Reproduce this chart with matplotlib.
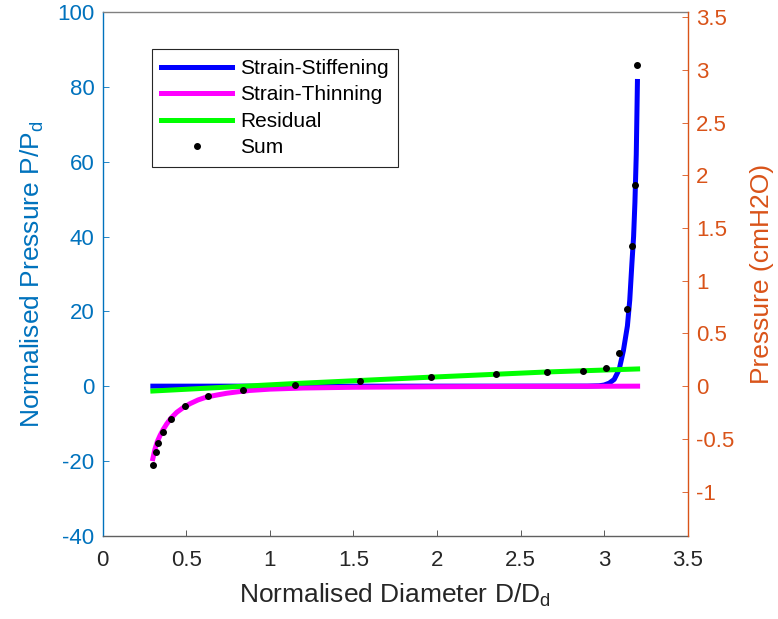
import matplotlib
matplotlib.use('Agg')
import matplotlib.pyplot as plt

plt.rcParams['font.family'] = ['Liberation Sans', 'DejaVu Sans']
plt.rcParams['mathtext.fontset'] = 'custom'
plt.rcParams['mathtext.rm'] = 'Liberation Sans'
plt.rcParams['mathtext.it'] = 'Liberation Sans'
plt.rcParams['axes.unicode_minus'] = False

# 数据
stiff_x = [0.3, 1.0, 2.0, 2.9, 2.97, 3.0, 3.03, 3.06, 3.09, 3.115, 3.139, 3.153, 3.166, 3.176, 3.184, 3.192, 3.199]
stiff_y = [0.0, 0.0, 0.0, 0.02, 0.1, 0.3, 0.8, 1.8, 4.5, 9.5, 16.1, 23.0, 32.9, 40.0, 49.2, 62.0, 81.5]

thin_x = [0.3, 0.313, 0.327, 0.343, 0.362, 0.383, 0.41, 0.443, 0.48, 0.522, 0.57, 0.622, 0.68, 0.742, 0.81,
          0.881, 1.0, 1.2, 1.5, 2.0, 2.5, 3.0, 3.2]
thin_y = [-19.4, -16.8, -14.8, -13.2, -11.6, -10.1, -8.5, -7.0, -5.8, -4.7, -3.7, -2.9, -2.4, -1.9, -1.5,
          -1.15, -0.8, -0.5, -0.3, -0.15, -0.07, -0.03, 0.0]

resid_x = [0.3, 1.15, 1.96, 2.66, 3.2]
resid_y = [-1.3, 0.7, 2.4, 3.8, 4.6]

sum_x = [0.299, 0.319, 0.333, 0.361, 0.409, 0.493, 0.628, 0.841, 1.149, 1.538, 1.963, 2.352, 2.659,
         2.873, 3.008, 3.090, 3.139, 3.166, 3.184, 3.199]
sum_y = [-21.0, -17.5, -15.3, -12.3, -8.8, -5.4, -2.7, -0.9, 0.4, 1.4, 2.4, 3.2, 3.7,
         4.1, 4.8, 9.0, 20.6, 37.4, 53.7, 86.0]

left_ticks = [-40, -20, 0, 20, 40, 60, 80, 100]
right_ticks = [-1, -0.5, 0, 0.5, 1, 1.5, 2, 2.5, 3, 3.5]
x_ticks = [0, 0.5, 1, 1.5, 2, 2.5, 3, 3.5]
scale = 28.2  # P/Pd -> cmH2O 换算

blue_ax = '#0072BD'
orange_ax = '#D95319'

fig = plt.figure(figsize=(7.78, 6.19), dpi=100)
ax = fig.add_axes([0.132, 0.1346, 0.752, 0.8455])
ax2 = ax.twinx()

ax.plot(stiff_x, stiff_y, color='#0000FF', linewidth=3.6, label='Strain-Stiffening')
ax.plot(thin_x, thin_y, color='#FF00FF', linewidth=3.6, label='Strain-Thinning')
ax.plot(resid_x, resid_y, color='#00FF00', linewidth=3.6, label='Residual')
ax.plot(sum_x, sum_y, linestyle='none', marker='o', markersize=4, color='black', label='Sum')

ax.set_xlim(0, 3.5)
ax.set_ylim(-40, 100)
ax2.set_ylim(-40 / scale, 100 / scale)
ax.set_xticks(x_ticks)
ax.set_xticklabels([f'{v:g}' for v in x_ticks])
ax.set_yticks(left_ticks)
ax2.set_yticks(right_ticks)
ax2.set_yticklabels([f'{v:g}' for v in right_ticks])

ax.set_xlabel('Normalised Diameter D/D$_\\mathrm{d}$', fontsize=19, color='#262626', labelpad=8)
ax.set_ylabel('Normalised Pressure P/P$_\\mathrm{d}$', fontsize=19, color=blue_ax, labelpad=8)
ax2.set_ylabel('Pressure (cmH2O)', fontsize=19, color=orange_ax, labelpad=11)

# 坐标轴样式
ax.tick_params(axis='x', direction='in', length=4.5, width=0.6, colors='#404040', labelsize=16, pad=10)
ax.tick_params(axis='x', labelcolor='#262626')
ax.tick_params(axis='y', direction='in', length=4.5, width=0.6, colors=blue_ax, labelsize=16, pad=6)
ax2.tick_params(axis='y', direction='in', length=4.5, width=0.6, colors=orange_ax, labelsize=16, pad=6)

ax.spines['left'].set_color(blue_ax)
ax.spines['right'].set_visible(False)
ax.spines['bottom'].set_color('#606060')
ax.spines['top'].set_color('#808080')
ax2.spines['right'].set_color(orange_ax)
ax2.spines['left'].set_visible(False)
ax2.spines['top'].set_visible(False)
ax2.spines['bottom'].set_visible(False)
for s in ax.spines.values():
    s.set_linewidth(1.0)
ax2.spines['right'].set_linewidth(1.0)

leg = ax.legend(loc='upper left', bbox_to_anchor=(0.0838, 0.929), borderaxespad=0,
                fontsize=15, handlelength=3.4, handletextpad=0.4, labelspacing=0.36,
                fancybox=False, framealpha=1, edgecolor='#262626', borderpad=0.45)
leg.get_frame().set_linewidth(0.8)

plt.savefig('out.png', dpi=100)
